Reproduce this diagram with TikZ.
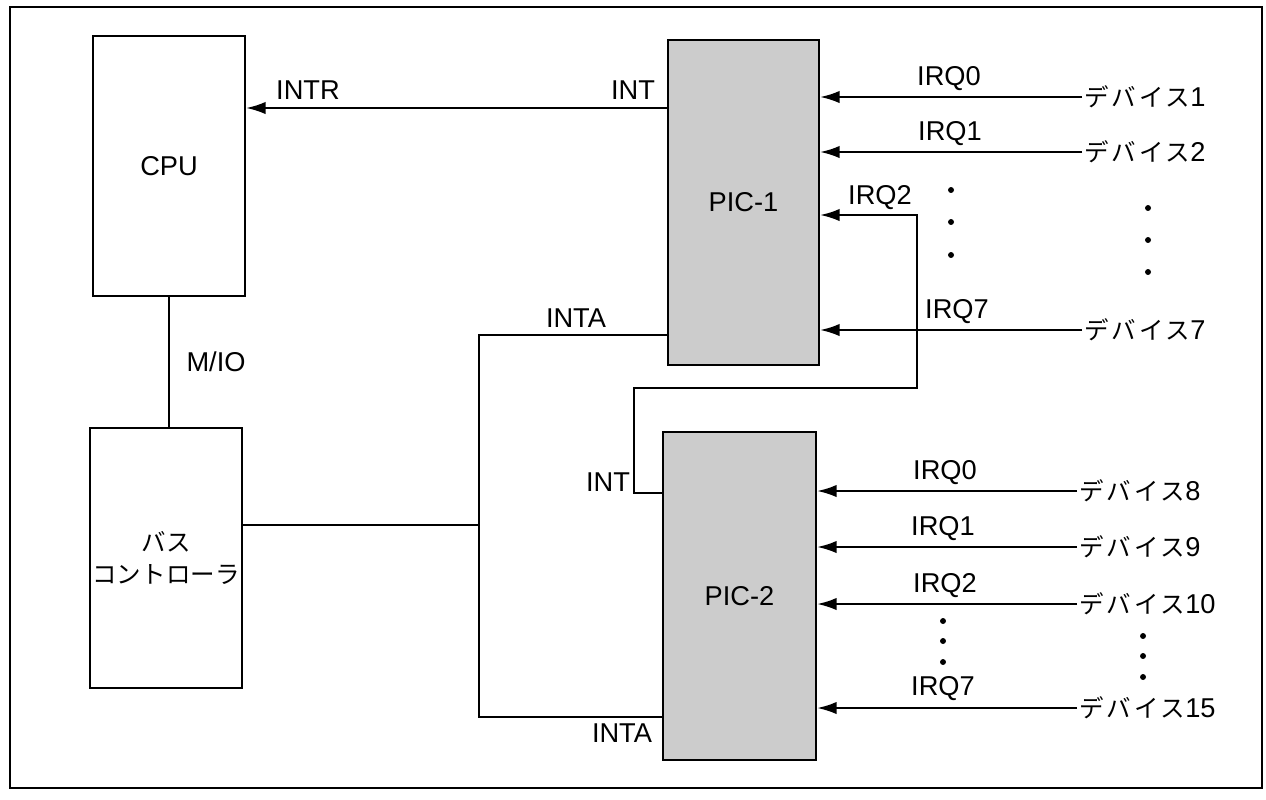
\documentclass[tikz,border=0pt]{standalone}
\usepackage{fontspec}
\setmainfont{Liberation Sans}
\newfontfamily\jp[Scale=0.9]{Noto Sans CJK JP}
\newfontfamily\jpwide[Scale=0.9,LetterSpace=12]{Noto Sans CJK JP}
\usetikzlibrary{arrows.meta}

\begin{document}
\begin{tikzpicture}[x=0.02cm,y=-0.02cm,
  lbl/.style={font=\fontsize{15.5}{18}\selectfont,inner sep=1pt},
  unit/.style={draw,line width=1.4pt,minimum width=3.04cm,minimum height=5.2cm,
    font=\fontsize{15.5}{18}\selectfont,align=center,inner sep=0pt},
  chip/.style={unit,fill=black!20},
  wire/.style={line width=1.1pt},
  irq/.style={wire,-{Latex[length=11pt,width=7pt]}}]
\useasboundingbox (0,0) rectangle (1266,799);
\draw[line width=1.2pt] (10,7) rectangle (1262,788);

% blocks
\node[unit] (cpu) at (169,166) {CPU};
\node[unit] (bus) at (166,558) {{\jp バス}\\{\jp コントローラ}};
\node[chip,minimum width=3.02cm,minimum height=6.5cm] (pic1) at (743.5,202.5) {PIC-1};
\node[chip,minimum width=3.06cm,minimum height=6.56cm] (pic2) at (739.5,596) {PIC-2};

% CPU side
\coordinate (p1int) at (pic1.west |- 0,108);
\coordinate (p1inta) at (pic1.west |- 0,335);
\coordinate (p2int) at (pic2.west |- 0,493);
\coordinate (p2inta) at (pic2.west |- 0,717);
\coordinate (busj) at (479,525);
\draw[irq] (p1int) -- (p1int -| cpu.east);
\node[lbl,anchor=south] (intr) at (308,102) {INTR};
\node[lbl,anchor=south] (int1) at (633,102) {INT};
\draw[wire] (cpu.south) -- (cpu.south |- bus.north);
\node[lbl] (mio) at (216,362) {M/IO};
\draw[wire] (p1inta) -| (busj) |- (p2inta);
\node[lbl,anchor=south] (inta1) at (576,330) {INTA};
\draw[wire] (bus.east |- busj) -- (busj);
\node[lbl,anchor=north] (inta2) at (622,722) {INTA};
\draw[irq] (p2int) -| (634,388) -| (917,215) -- (pic1.east |- 917,215);
\node[lbl,anchor=south east] (int2) at (632,494) {INT};
\node[lbl,anchor=south] (q12) at (880,212) {IRQ2};

% devices on PIC-1
\node[lbl,anchor=west] (d1) at (1082,97) {{\jpwide デバイス}1};
\draw[irq] (d1.west) -- (d1.west -| pic1.east);
\node[lbl,anchor=south] (q10) at (949,93) {IRQ0};
\node[lbl,anchor=west] (d2) at (1082,152) {{\jpwide デバイス}2};
\draw[irq] (d2.west) -- (d2.west -| pic1.east);
\node[lbl,anchor=south] (q11) at (950,148) {IRQ1};
\node[lbl,anchor=west] (d7) at (1082,330) {{\jpwide デバイス}7};
\draw[irq] (d7.west) -- (d7.west -| pic1.east);
\node[lbl,anchor=south] (q17) at (957,326) {IRQ7};
\fill (951,190) circle (1.7pt) (951,222) circle (1.7pt) (951,255) circle (1.7pt);
\fill (1148,208) circle (1.7pt) (1148,240) circle (1.7pt) (1148,272) circle (1.7pt);

% devices on PIC-2
\node[lbl,anchor=west] (d8) at (1077,491) {{\jpwide デバイス}8};
\draw[irq] (d8.west) -- (d8.west -| pic2.east);
\node[lbl,anchor=south] (q20) at (945,487) {IRQ0};
\node[lbl,anchor=west] (d9) at (1077,547) {{\jpwide デバイス}9};
\draw[irq] (d9.west) -- (d9.west -| pic2.east);
\node[lbl,anchor=south] (q21) at (943,543) {IRQ1};
\node[lbl,anchor=west] (d10) at (1077,604) {{\jpwide デバイス}10};
\draw[irq] (d10.west) -- (d10.west -| pic2.east);
\node[lbl,anchor=south] (q22) at (945,600) {IRQ2};
\node[lbl,anchor=west] (d15) at (1077,708) {{\jpwide デバイス}15};
\draw[irq] (d15.west) -- (d15.west -| pic2.east);
\node[lbl,anchor=south] (q27) at (943,703) {IRQ7};
\fill (943,621) circle (1.7pt) (943,641) circle (1.7pt) (943,662) circle (1.7pt);
\fill (1143,636) circle (1.7pt) (1143,656) circle (1.7pt) (1143,677) circle (1.7pt);
\end{tikzpicture}
\end{document}
